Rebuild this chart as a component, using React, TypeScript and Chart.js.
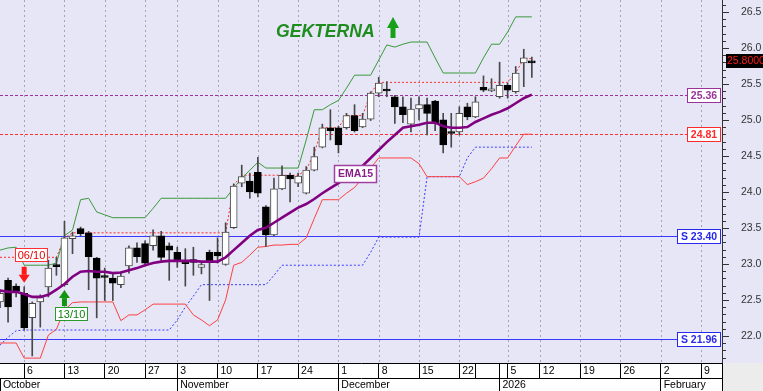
import React, { useEffect, useRef } from "react";
import { Chart, registerables } from "chart.js";

Chart.register(...registerables);

// ---------- data ----------
const tradeDates = [
  "01/10","02/10","03/10","06/10","07/10","08/10","09/10","10/10","13/10","14/10","15/10","16/10","17/10","20/10","21/10","22/10","23/10","24/10","27/10","29/10","30/10","31/10",
  "03/11","04/11","05/11","06/11","07/11","10/11","11/11","12/11","13/11","14/11","17/11","18/11","19/11","20/11","21/11","24/11","25/11","26/11","27/11","28/11",
  "01/12","02/12","03/12","04/12","05/12","08/12","09/12","10/12","11/12","12/12","15/12","16/12","17/12","18/12","19/12","22/12","23/12","29/12","30/12","31/12",
  "02/01","05/01","07/01","08/01","09/01",
];
const openPx = [22.48,22.78,22.70,22.60,22.26,22.48,22.69,23.00,22.72,23.36, 23.50,23.44,23.09,22.84,22.81,22.72,22.98,23.23,23.29,23.26, 23.40,23.26,23.17,23.03,23.07,22.96,23.17,23.17,23.00,23.51, 24.13,24.16,24.28,23.80,23.41,24.05,24.24,24.13,23.99,24.31, 24.63,24.90,24.90,24.90,25.07,24.91,25.02,25.38,25.43,25.33, 25.19,24.95,25.16,25.22,25.27,25.01,24.84,24.84,25.19,25.05, 25.46,25.41,25.33,25.49,25.40,25.80,25.82];
const highPx = [22.65,22.81,22.73,22.69,22.48,22.58,23.06,23.10,23.60,23.45, 23.52,23.46,23.10,22.95,22.88,22.90,23.26,23.30,23.33,23.48, 23.46,23.30,23.24,23.22,23.24,23.03,23.20,23.37,23.58,24.12, 24.38,24.27,24.49,23.82,24.20,24.37,24.27,24.27,24.36,24.63, 24.95,25.15,24.92,25.10,25.22,25.10,25.40,25.60,25.54,25.35, 25.33,25.31,25.33,25.31,25.28,25.10,25.10,25.19,25.24,25.33, 25.62,25.58,25.81,25.52,25.75,25.99,25.88];
const lowPx = [22.40,22.20,22.55,22.09,21.73,22.13,22.55,22.85,22.70,23.15, 23.40,22.65,22.26,22.50,22.50,22.68,22.88,23.03,22.98,23.20, 23.04,22.78,22.96,22.70,22.85,22.87,22.50,23.02,22.99,23.50, 24.08,23.92,23.94,23.25,23.40,24.04,23.87,24.08,23.98,24.30, 24.62,24.73,24.55,24.88,24.84,24.90,25.00,25.33,25.33,24.96, 24.97,24.84,25.01,24.80,24.86,24.55,24.63,24.80,25.01,25.04, 25.40,25.40,25.31,25.31,25.38,25.47,25.60];
const closePx = [22.60,22.41,22.63,22.12,22.46,22.54,22.95,22.97,23.37,23.40, 23.43,23.11,22.81,22.82,22.74,22.84,23.23,23.11,23.02,23.40, 23.10,23.20,23.04,23.01,23.03,23.00,23.04,23.12,23.45,24.09, 24.22,24.01,23.99,23.41,24.05,24.24,24.19,24.23,24.31,24.50, 24.90,24.86,24.66,25.07,24.86,25.02,25.38,25.52,25.41,25.19, 25.08,25.16,25.22,25.10,24.96,24.66,24.82,25.10,25.05,25.26, 25.42,25.44,25.49,25.42,25.66,25.87,25.80];
const ema15 = [22.64,22.62,22.62,22.59,22.55,22.55,22.58,22.65,22.73,22.83, 22.90,22.91,22.90,22.90,22.88,22.89,22.92,22.95,22.99,23.02, 23.04,23.05,23.05,23.05,23.05,23.04,23.04,23.04,23.10,23.20, 23.30,23.40,23.48,23.51,23.58,23.65,23.72,23.79,23.84,23.91, 23.99,24.06,24.13,24.21,24.28,24.37,24.48,24.59,24.70,24.80, 24.90,24.92,24.94,24.97,24.97,24.92,24.90,24.90,24.91,24.98, 25.03,25.08,25.12,25.17,25.24,25.31,25.36];
const upperBand = [23.20,23.23,23.24,22.99,22.99,22.99,22.99,23.02,23.40,23.48, 23.90,23.92,23.73,23.69,23.65,23.65,23.65,23.65,23.65,23.78, 23.92,23.92,23.92,23.92,23.92,23.92,23.92,23.92,23.92,24.06, 24.20,24.31,24.42,24.34,24.34,24.34,24.34,24.34,24.73,25.15, 25.15,25.22,25.28,25.45,25.63,25.63,25.63,25.84,26.05,26.02, 26.06,26.09,26.09,26.09,25.87,25.66,25.66,25.66,25.66,25.66, 25.87,26.06,26.06,26.23,26.44,26.44,26.44];
const lowerBand = [21.91,21.91,21.91,21.70,21.70,21.70,22.02,22.10,22.37,22.47, 22.48,22.48,22.48,22.48,22.48,22.22,22.30,22.30,22.37,22.45, 22.45,22.45,22.45,22.45,22.30,22.23,22.15,22.23,22.51,22.99, 23.03,23.13,23.24,23.25,23.27,23.27,23.28,23.28,23.37,23.64, 23.90,23.90,23.90,23.99,24.07,24.20,24.34,24.48,24.48,24.48, 24.48,24.48,24.40,24.22,24.22,24.22,24.22,24.22,24.11,24.15, 24.20,24.33,24.48,24.48,24.65,24.81,24.81];
const supportTrail = [21.88,21.99,22.08,22.09,22.09,22.09,22.09,22.09,22.09,22.09, 22.09,22.09,22.09,22.09,22.09,22.09,22.09,22.09,22.09,22.09, 22.09,22.09,22.23,22.41,22.56,22.72,22.72,22.72,22.72,22.72, 22.72,22.72,22.72,22.72,22.85,22.99,22.99,22.99,22.99,22.99, 22.99,22.99,22.99,22.99,22.99,22.99,23.17,23.38,23.38,23.38, 23.38,23.38,23.38,24.22,24.22,24.22,24.22,24.22,24.48,24.63, 24.63,24.63,24.63,24.63,24.63,24.63,24.63];
const resistTrail = [23.10,23.10,23.10,23.10,23.10,23.10,23.10,23.10,23.37,23.44, 23.44,23.44,23.44,23.44,23.44,23.44,23.44,23.44,23.44,23.44, 23.44,23.44,23.44,23.44,23.44,23.44,23.44,23.44,23.44,24.10, 24.24,24.24,24.24,24.24,24.24,24.24,24.24,24.24,24.31,24.55, 24.90,24.90,24.90,25.07,25.07,25.07,25.38,25.53,25.53,25.53, 25.53,25.53,25.53,25.53,25.53,25.53,25.53,25.53,25.53,25.53, 25.53,25.53,25.53,25.53,25.66,25.86,25.86];

const supportLevels = [23.40, 21.96];
const emaLast = 25.36;
const stopLast = 24.81;
const lastPrice = 25.8;

const weekTickIdx = [3, 8, 13, 18, 22, 27, 32, 37, 42, 47, 52, 57, 59, 62, 63, 67, 72, 77, 82, 87];
const weekTickLabels = ["6","13","20","27","3","10","17","24","1","8","15","22","","","5","12","19","26","2","9"];
const monthTickIdx = [0, 22, 42, 62, 82];
const monthTickLabels = ["October", "November", "December", "2026", "February"];
const yMajorTicks = [22.0, 22.5, 23.0, 23.5, 24.0, 24.5, 25.0, 25.5, 26.0, 26.5];

const signalDown = { idx: 3, text: "06/10" };
const signalUp = { idx: 8, text: "13/10" };

// ---------- layout constants ----------
const X_MIN = 0;
const X_MAX = 89.6;
const Y_MIN = 21.632;
const Y_MAX = 26.674;
const FONT = '"Liberation Sans", Arial, sans-serif';
const BG = "#e6e6f6";

const series = (vals: number[]) => vals.map((v, i) => ({ x: i, y: v }));
const noPad = (s: any) => {
  s.paddingTop = 0; s.paddingBottom = 0; s.paddingLeft = 0; s.paddingRight = 0;
};

function boxLabel(ctx: any, text: string, xRight: number, yc: number, color: string, bold: boolean) {
  ctx.font = `${bold ? "bold " : ""}10.5px ${FONT}`;
  const w = Math.round(ctx.measureText(text).width) + 7;
  const h = 14;
  const x = Math.round(xRight - w) + 0.5;
  const y = Math.round(yc - h / 2) + 0.5;
  ctx.fillStyle = "#ffffff";
  ctx.fillRect(x, y, w, h);
  ctx.strokeStyle = color;
  ctx.lineWidth = 1;
  ctx.setLineDash([]);
  ctx.strokeRect(x, y, w, h);
  ctx.fillStyle = color;
  ctx.textAlign = "center";
  ctx.textBaseline = "middle";
  ctx.fillText(text, x + w / 2, y + h / 2 + 0.5);
  return x;
}

function levelWidth(ctx: any, text: string) {
  ctx.font = `bold 10.5px ${FONT}`;
  return Math.round(ctx.measureText(text).width) + 7;
}

const overlayPlugin = {
  id: "overlay",
  beforeDraw(chart: any) {
    const { ctx, chartArea: ca, width, height } = chart;
    ctx.save();
    ctx.fillStyle = BG;
    ctx.fillRect(0, 0, width, height);
    ctx.fillStyle = "#ffffff";
    ctx.fillRect(0, ca.bottom, ca.right, height - ca.bottom);
    ctx.fillStyle = "#ececec";
    ctx.fillRect(ca.right, ca.bottom, width - ca.right, height - ca.bottom);
    ctx.restore();
  },
  beforeDatasetsDraw(chart: any) {
    const { ctx, chartArea: ca } = chart;
    const xs = chart.scales.x;
    const ys = chart.scales.y;
    ctx.save();
    // dotted vertical grid at labelled week ticks
    ctx.strokeStyle = "#a4a4b4";
    ctx.lineWidth = 1;
    ctx.setLineDash([2, 3]);
    ctx.beginPath();
    weekTickIdx.forEach((v, i) => {
      if (!weekTickLabels[i]) return;
      const x = Math.round(xs.getPixelForValue(v)) + 0.5;
      if (x < ca.left || x > ca.right) return;
      ctx.moveTo(x, ca.top);
      ctx.lineTo(x, ca.bottom);
    });
    ctx.stroke();

    const line = (v: number, text: string, color: string, dash: number[]) => {
      const y = Math.round(ys.getPixelForValue(v)) + 0.5;
      const xEnd = ca.right - 2 - levelWidth(ctx, text);
      ctx.strokeStyle = color;
      ctx.lineWidth = 1;
      ctx.setLineDash(dash);
      ctx.beginPath();
      ctx.moveTo(ca.left, y);
      ctx.lineTo(xEnd, y);
      ctx.stroke();
    };
    supportLevels.forEach((v) => line(v, "S " + v.toFixed(2), "#3a3aff", []));
    line(emaLast, emaLast.toFixed(2), "#a030a0", [3, 2]);
    line(stopLast, stopLast.toFixed(2), "#ff3030", [3, 2]);
    ctx.restore();
  },
  afterDraw(chart: any) {
    const { ctx, chartArea: ca, width, height } = chart;
    const xs = chart.scales.x;
    const ys = chart.scales.y;
    ctx.save();
    ctx.setLineDash([]);
    // level labels
    supportLevels.forEach((v) => boxLabel(ctx, "S " + v.toFixed(2), ca.right - 2, ys.getPixelForValue(v), "#2828ee", true));
    boxLabel(ctx, emaLast.toFixed(2), ca.right - 2, ys.getPixelForValue(emaLast), "#993399", true);
    boxLabel(ctx, stopLast.toFixed(2), ca.right - 2, ys.getPixelForValue(stopLast), "#ff2a2a", true);

    // last price tag
    const py = ys.getPixelForValue(lastPrice) - 2;
    ctx.fillStyle = "#000000";
    ctx.fillRect(ca.right + 4, Math.round(py - 7), width - ca.right - 4, 14);
    ctx.fillStyle = "#ff1a1a";
    ctx.font = `10.5px ${FONT}`;
    ctx.textAlign = "left";
    ctx.textBaseline = "middle";
    ctx.fillText(lastPrice.toFixed(5), ca.right + 5, Math.round(py) + 0.5);

    // EMA15 tag
    {
      ctx.font = `bold 10.5px ${FONT}`;
      const cx = xs.getPixelForValue(44);
      const cy = ys.getPixelForValue(24.27);
      const w = 42, h = 17;
      const x = Math.round(cx - w / 2) + 0.5, y = Math.round(cy - h / 2) + 0.5;
      ctx.fillStyle = "#ffffff";
      ctx.fillRect(x, y, w, h);
      ctx.strokeStyle = "#a040a0";
      ctx.lineWidth = 1.5;
      ctx.strokeRect(x, y, w, h);
      ctx.fillStyle = "#8a208a";
      ctx.textAlign = "center";
      ctx.textBaseline = "middle";
      ctx.fillText("EMA15", x + w / 2, y + h / 2 + 0.5);
    }

    // signal arrows
    const downX = xs.getPixelForValue(signalDown.idx);
    const downTip = ys.getPixelForValue(highPx[signalDown.idx]) - 4;
    ctx.fillStyle = "#ff1a1a";
    ctx.beginPath();
    ctx.moveTo(downX - 5.5, downTip - 8);
    ctx.lineTo(downX + 5.5, downTip - 8);
    ctx.lineTo(downX, downTip);
    ctx.closePath();
    ctx.fill();
    ctx.fillRect(downX - 2.5, downTip - 16, 5, 8);
    {
      ctx.font = `11px ${FONT}`;
      const w = 32, h = 13;
      const x = Math.round(downX - 9) + 0.5, y = Math.round(downTip - 35) + 0.5;
      ctx.fillStyle = "#ffffff";
      ctx.fillRect(x, y, w, h);
      ctx.strokeStyle = "#ff3030";
      ctx.lineWidth = 1;
      ctx.strokeRect(x, y, w, h);
      ctx.fillStyle = "#e00000";
      ctx.textAlign = "center";
      ctx.textBaseline = "middle";
      ctx.fillText(signalDown.text, x + w / 2, y + h / 2 + 0.5);
    }

    const upX = xs.getPixelForValue(signalUp.idx);
    const upTip = ys.getPixelForValue(lowPx[signalUp.idx]) + 4;
    ctx.fillStyle = "#129612";
    ctx.beginPath();
    ctx.moveTo(upX - 5.5, upTip + 8);
    ctx.lineTo(upX + 5.5, upTip + 8);
    ctx.lineTo(upX, upTip);
    ctx.closePath();
    ctx.fill();
    ctx.fillRect(upX - 2.5, upTip + 8, 5, 8);
    {
      ctx.font = `11px ${FONT}`;
      const w = 32, h = 13;
      const x = Math.round(upX - 9) + 0.5, y = Math.round(upTip + 17) + 0.5;
      ctx.fillStyle = "#ffffff";
      ctx.fillRect(x, y, w, h);
      ctx.strokeStyle = "#2a9a2a";
      ctx.lineWidth = 1;
      ctx.strokeRect(x, y, w, h);
      ctx.fillStyle = "#108010";
      ctx.textAlign = "center";
      ctx.textBaseline = "middle";
      ctx.fillText(signalUp.text, x + w / 2, y + h / 2 + 0.5);
    }

    // title
    ctx.font = `italic bold 17.6px ${FONT}`;
    ctx.fillStyle = "#1e8c1e";
    ctx.textAlign = "left";
    ctx.textBaseline = "alphabetic";
    ctx.fillText("GEKTERNA", 276, 37);
    ctx.fillStyle = "#18a018";
    ctx.beginPath();
    ctx.moveTo(387, 28);
    ctx.lineTo(399, 28);
    ctx.lineTo(393, 17);
    ctx.closePath();
    ctx.fill();
    ctx.fillRect(390.5, 28, 5, 10);

    // frame of the date band
    ctx.strokeStyle = "#000000";
    ctx.lineWidth = 1;
    ctx.beginPath();
    const yb = Math.round(ca.bottom) + 0.5;
    ctx.moveTo(0, yb);
    ctx.lineTo(Math.round(ca.right) + 0.5, yb);
    ctx.moveTo(Math.round(ca.right) + 0.5, ca.bottom);
    ctx.lineTo(Math.round(ca.right) + 0.5, height);
    ctx.stroke();
    ctx.restore();
  },
};

export default function App() {
  const ref = useRef<HTMLCanvasElement>(null);

  useEffect(() => {
    const canvas = ref.current;
    if (!canvas) return;
    const idx = tradeDates.map((_, i) => i);
    const up = idx.map((i) => closePx[i] >= openPx[i]);

    const minorTicks: number[] = [];
    for (let k = 217; k <= 266; k++) minorTicks.push(k / 10);

    const axisFont = { family: FONT, size: 10.5 };

    const chart = new Chart(canvas, {
      type: "line",
      data: {
        datasets: [
          {
            type: "line", label: "EMA15", data: series(ema15),
            borderColor: "#800080", borderWidth: 2.6, pointRadius: 0, tension: 0, order: 0,
          },
          {
            type: "bar", label: "Body",
            data: idx.map((i) => ({ x: i, y: [openPx[i], closePx[i]] })),
            backgroundColor: idx.map((i) => (up[i] ? "#ffffff" : "#000000")),
            borderColor: idx.map((i) => (up[i] ? "#4a4a4a" : "#000000")),
            borderWidth: 1, borderSkipped: false, barThickness: 7, minBarLength: 2,
            grouped: false, order: 1,
          },
          {
            type: "bar", label: "Wick",
            data: idx.map((i) => ({ x: i, y: [lowPx[i], highPx[i]] })),
            backgroundColor: "#484848", borderWidth: 0, barThickness: 1,
            grouped: false, order: 2,
          },
          {
            type: "line", label: "Upper", data: series(upperBand),
            borderColor: "#3a9a3a", borderWidth: 1, pointRadius: 0, tension: 0, order: 3,
          },
          {
            type: "line", label: "Lower", data: series(lowerBand),
            borderColor: "#ff4040", borderWidth: 1, pointRadius: 0, tension: 0, order: 4,
          },
          {
            type: "line", label: "Support trail", data: series(supportTrail),
            borderColor: "#3a3aff", borderWidth: 1, borderDash: [2, 2], pointRadius: 0, tension: 0, order: 5,
          },
          {
            type: "line", label: "Resistance trail", data: series(resistTrail),
            borderColor: "#ff2a2a", borderWidth: 1, borderDash: [2, 2], pointRadius: 0, tension: 0, order: 6,
          },
        ] as any,
      },
      options: {
        responsive: false,
        maintainAspectRatio: false,
        devicePixelRatio: 1,
        animation: false,
        layout: { padding: 0, autoPadding: false },
        plugins: { legend: { display: false }, tooltip: { enabled: false } },
        scales: {
          x: {
            type: "linear", position: "bottom", min: X_MIN, max: X_MAX, offset: false, weight: 0,
            afterBuildTicks: (s: any) => { s.ticks = weekTickIdx.map((v) => ({ value: v })); },
            afterFit: (s: any) => { s.height = 15; noPad(s); },
            ticks: {
              callback: (_v: any, i: number) => (weekTickLabels[i] ? " " + weekTickLabels[i] : ""),
              align: "start", padding: -13, maxRotation: 0, autoSkip: false,
              font: axisFont, color: "#000000",
            },
            grid: {
              offset: false,
              color: "rgba(0,0,0,0)",
              lineWidth: 1,
              drawTicks: true, tickLength: 15, tickColor: "#000000", tickBorderDash: [], tickWidth: 1,
            },
            border: { display: false },
          },
          x2: {
            type: "linear", position: "bottom", min: X_MIN, max: X_MAX, offset: false, weight: 1,
            afterBuildTicks: (s: any) => { s.ticks = monthTickIdx.map((v) => ({ value: v })); },
            afterFit: (s: any) => { s.height = 13; noPad(s); },
            ticks: {
              callback: (_v: any, i: number) => " " + monthTickLabels[i],
              align: "start", padding: -12, maxRotation: 0, autoSkip: false,
              font: axisFont, color: "#000000",
            },
            grid: {
              offset: false, drawOnChartArea: false, drawTicks: true, tickLength: 13,
              tickColor: "#000000", tickWidth: 1,
            },
            border: { display: true, color: "#000000", width: 1 },
          },
          y2: {
            type: "linear", position: "right", min: Y_MIN, max: Y_MAX, weight: 0,
            afterBuildTicks: (s: any) => { s.ticks = minorTicks.map((v) => ({ value: v })); },
            afterFit: (s: any) => { s.width = 4; noPad(s); },
            ticks: { display: false },
            grid: { drawOnChartArea: false, drawTicks: true, tickLength: 4, tickColor: "#333333" },
            border: { display: true, color: "#333333", width: 1 },
          },
          y: {
            type: "linear", position: "right", min: Y_MIN, max: Y_MAX, weight: 1,
            afterBuildTicks: (s: any) => { s.ticks = yMajorTicks.map((v) => ({ value: v })); },
            afterFit: (s: any) => { s.width = 37; noPad(s); },
            ticks: {
              callback: (v: any) => Number(v).toFixed(1),
              padding: 12, font: axisFont, color: "#333333",
            },
            grid: { drawOnChartArea: false, drawTicks: true, tickLength: 3, tickColor: "#333333" },
            border: { display: false },
          },
        } as any,
      },
      plugins: [overlayPlugin],
    } as any);

    return () => chart.destroy();
  }, []);

  return (
    <div style={{ position: "fixed", left: 0, top: 0, width: 763, height: 391 }}>
      <canvas ref={ref} width={763} height={391} style={{ display: "block" }} />
    </div>
  );
}
